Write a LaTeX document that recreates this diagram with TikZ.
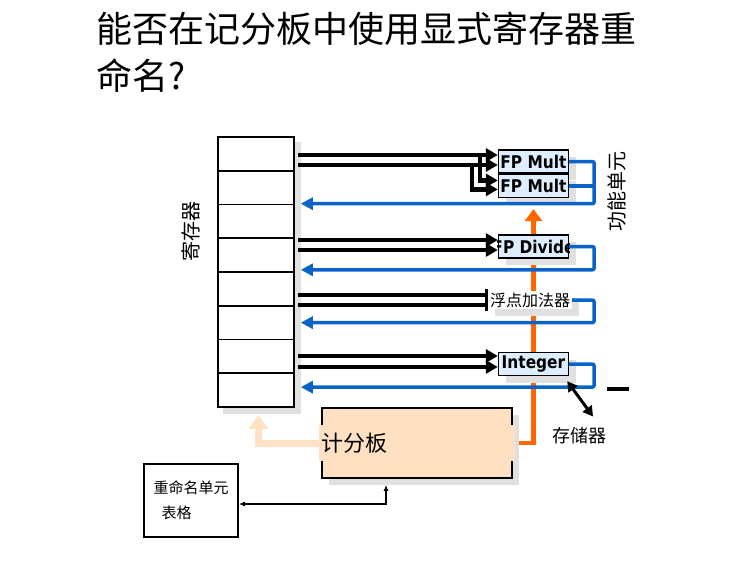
\documentclass[tikz,border=0pt]{standalone}
\usepackage{fontspec}
\setmainfont{Noto Sans CJK SC}
\newfontfamily\fufont[FakeStretch=0.88]{DejaVu Sans}
\usepackage{xcolor}
\usepackage{tikz}
\usetikzlibrary{calc, positioning, arrows.meta, shadows}
\pgfdeclarelayer{bg}
\pgfsetlayers{bg,main}

\definecolor{fublue}{RGB}{222,238,255}
\definecolor{wbblue}{RGB}{10,100,200}
\definecolor{issueorange}{RGB}{255,102,0}
\definecolor{sbpeach}{RGB}{255,224,194}
\definecolor{rdpeach}{RGB}{255,226,198}

\tikzset{
  boxshadow/.style={drop shadow={fill=black!12, opacity=1, shadow xshift=7pt, shadow yshift=-7pt}},
  regcell/.style={draw, fill=white, line width=1.6, minimum width=76, minimum height=33.75, inner sep=0},
  fu/.style={draw, line width=1.4, fill=fublue, minimum width=70, minimum height=23, inner sep=0, boxshadow, font=\fufont\bfseries\fontsize{17.5}{17.5}\selectfont},
  wire/.style={line width=4.5, -{Triangle[length=12pt,width=13pt]}},
  ret/.style={wbblue, line width=3.5, rounded corners=2, -{Triangle[length=12pt,width=12pt]}},
}

\begin{document}
\begin{tikzpicture}[x=1pt, y=-1pt]
  \useasboundingbox (0,0) rectangle (755,566);
  \begin{pgfonlayer}{bg}
    \fill[white] (0,0) rectangle (755,566);
  \end{pgfonlayer}

  % title %
  \node[anchor=west, inner sep=0, font=\fontsize{36}{36}\selectfont] (title1) at (96,29) {能否在记分板中使用显式寄存器重};
  \node[anchor=west, inner sep=0, font=\fontsize{36}{36}\selectfont] (title2) at (96,76) {命名?};

  % register file %
  \foreach \i in {1,...,8}
    \node[regcell] (r\i) at (256, {137+33.75*(\i-0.5)}) {};
  \node[rotate=90, font=\fontsize{20}{20}\selectfont] (reglabel) at (191,231) {寄存器};

  % functional units %
  \node[fu] (fpm1) at (533.5,161.5) {FP Mult};
  \node[fu, below=0pt of fpm1] (fpm2) {FP Mult};
  \node[fu] (fpd) at (533.5,246.5) {};
  \begin{scope}
    \clip (fpd.south west) rectangle (fpd.north east);
    \node[font=\fufont\bfseries\fontsize{17.5}{17.5}\selectfont] (fpdtext) at (fpd.center) {FP Divide};
  \end{scope}
  \node[fill=white, boxshadow, inner sep=2pt, font=\fontsize{16}{16}\selectfont] (fadd) at (530,300) {浮点加法器};
  \node[fu] (int) at (533.5,364) {Integer};
  \node[rotate=90, font=\fontsize{20}{20}\selectfont] (fulabel) at (617,191) {功能单元};

  % scoreboard, rename table, memory %
  \node[draw, line width=1.6, fill=sbpeach, boxshadow, minimum width=190, minimum height=70] (sb) at (417,443) {};
  \fill[sbpeach] ([shift={(-2,-18)}]sb.west) rectangle ([shift={(2,18)}]sb.west);
  \fill[sbpeach] ([shift={(-2,-18)}]sb.east) rectangle ([shift={(2,18)}]sb.east);
  \node[anchor=west, inner sep=0, font=\fontsize{22}{22}\selectfont] (sblabel) at (sb.west) {计分板};
  \node[draw, line width=1.6, minimum width=94, minimum height=73, align=left, font=\fontsize{15}{25}\selectfont] (ren) at (191,500.5) {重命名单元\\\hspace{8pt}表格};
  \node[inner sep=0, font=\fontsize{18}{18}\selectfont] (mem) at (579,436) {存储器};

  % edges %
  \begin{pgfonlayer}{bg}
    \fill[black!12] ([shift={(6,6)}]r1.north west) rectangle ([shift={(6,6)}]r8.south east);
    \draw[issueorange, line width=4.5, -{Triangle[length=12pt,width=17pt]}] (sb.east) -| ([yshift=-11pt]fpm2.south);
  \end{pgfonlayer}

  \draw[wire] ([xshift=3pt,yshift=-1.1pt]r1.east) coordinate (w1) -- (w1 -| fpm1.west);
  \draw[wire] ([xshift=3pt,yshift=-11.1pt]r1.east) coordinate (w2) -- (w2 -| fpm1.west);
  \draw[wire] ($(w1 -| fpm1.west)+(-18,0)$) |- ([yshift=5.5pt]fpm2.west);
  \draw[wire] ($(w2 -| fpm1.west)+(-26,0)$) |- ([yshift=-3.5pt]fpm2.west);

  \draw[wire] ([xshift=3pt,yshift=15.1pt]r4.east) coordinate (w3) -- (w3 -| fpd.west);
  \draw[wire] ([xshift=3pt,yshift=5.1pt]r4.east) coordinate (w4) -- (w4 -| fpd.west);

  \draw[wire, -{Bar[width=12pt, line width=2.5pt]}] ([xshift=3pt,yshift=-6.1pt]r5.east) coordinate (w5) -- (w5 -| fadd.west);
  \draw[wire, -{Bar[width=12pt, line width=2.5pt]}] ([xshift=3pt,yshift=-16.1pt]r5.east) coordinate (w6) -- (w6 -| fadd.west);

  \draw[wire] ([xshift=3pt,yshift=0.4pt]r7.east) coordinate (w7) -- (w7 -| int.west);
  \draw[wire] ([xshift=3pt,yshift=-10.6pt]r7.east) coordinate (w8) -- (w8 -| int.west);

  \draw[ret] (fpm1.east) -- ++(25,0) |- ([xshift=6pt]r3.north east);
  \draw[ret, -] (fpm2.east) -- ++(25,0);
  \draw[ret] (fpd.east) -- ++(25,0) |- ([xshift=6pt,yshift=3pt]r4.south east);
  \draw[ret] (fadd.east) -- ++(22,0) |- ([xshift=6pt]r6.east);
  \draw[ret] (int.east) -- ++(25,0) |- ([xshift=6pt,yshift=3pt]r8.east);

  \draw[rdpeach, line width=7, -{Triangle[length=14pt,width=19pt]}] (sb.west) -| ([xshift=2.5pt,yshift=-7pt]r8.south);
  \draw[{Triangle[length=10pt,width=11pt]}-{Triangle[length=10pt,width=11pt]}, line width=3] ([shift={(-2,5)}]int.south east) -- ([shift={(14,-11)}]mem.north);
  \draw[{Latex[length=6pt,width=5pt]}-{Latex[length=6pt,width=5pt]}, line width=1.6] ([yshift=-3.5pt]ren.east) -| ([xshift=-31pt,yshift=-6pt]sb.south);
  \draw[line width=4] (607,389) -- (629,389);
\end{tikzpicture}
\end{document}
